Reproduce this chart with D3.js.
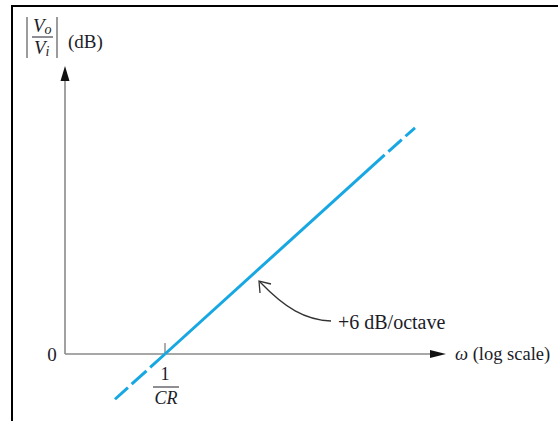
<!DOCTYPE html>
<html><head><meta charset="utf-8">
<script src="https://cdn.jsdelivr.net/npm/d3@7"></script>
<style>body{margin:0;background:#fff}svg{display:block}</style>
</head><body>
<svg id="c" width="558" height="421"></svg>
<script>
// Data (ω normalised so that 1/CR = 1)
const breakOmega = 1;                 // 1/CR
const lowDashOmega = [1, 0.5];        // dashed extension below corner
const lowDashDb = [0, -6];
const solidOmega = [1, 21];           // solid +6 dB/octave asymptote
const solidDb = [0, 26.4];
const highDashOmega = [21, 32];       // dashed extension at top
const highDashDb = [26.4, 30];
const yTickLabels = ["0"];
const annotation = "+6 dB/octave";

const svg = d3.select("#c");
const x = d3.scaleLog().base(2).domain([0.25, 2 ** 5.3]).range([65, 430]);
const y = d3.scaleLinear().domain([0, 36.2]).range([354, 81]);
const serif = "'Liberation Serif','Times New Roman',serif";
const txt = "#1c1c28";
const axisCol = "#8a8a8a";
const blue = "#17a7e2";

// frame
svg.append("rect").attr("x", 11).attr("y", 5).attr("width", 2).attr("height", 416).attr("fill", "#000");
svg.append("rect").attr("x", 11).attr("y", 5).attr("width", 547).attr("height", 2).attr("fill", "#000");

// axes
svg.append("line").attr("x1", x(0.25)).attr("x2", x(0.25)).attr("y1", y(0)).attr("y2", y(36.2))
  .attr("stroke", axisCol).attr("stroke-width", 1.6);
svg.append("line").attr("x1", x(0.25)).attr("x2", 432).attr("y1", y(0)).attr("y2", y(0))
  .attr("stroke", axisCol).attr("stroke-width", 1.6);
// arrowheads
svg.append("path").attr("d", `M${x(0.25)},66 L${x(0.25)-4.5},81 L${x(0.25)+4.5},81 Z`).attr("fill", "#111");
svg.append("path").attr("d", `M446,${y(0)} L430,${y(0)-4} L430,${y(0)+4} Z`).attr("fill", "#111");

// tick at 1/CR
svg.append("line").attr("x1", x(breakOmega)).attr("x2", x(breakOmega)).attr("y1", y(0) - 11).attr("y2", y(0))
  .attr("stroke", axisCol).attr("stroke-width", 1.4);

// lines
const lineGen = d3.line().x(d => x(d[0])).y(d => y(d[1]));
svg.append("path").attr("d", lineGen(d3.zip(solidOmega, solidDb)))
  .attr("stroke", blue).attr("stroke-width", 3).attr("fill", "none");
svg.append("path").attr("d", lineGen(d3.zip(lowDashOmega, lowDashDb)))
  .attr("stroke", blue).attr("stroke-width", 3).attr("fill", "none").attr("stroke-dasharray", "20,5");
svg.append("path").attr("d", lineGen(d3.zip(highDashOmega, highDashDb)))
  .attr("stroke", blue).attr("stroke-width", 3).attr("fill", "none")
  .attr("stroke-dasharray", "18,5").attr("stroke-dashoffset", 18);

// labels
svg.append("text").attr("x", 52).attr("y", 361).attr("text-anchor", "middle")
  .attr("font-family", serif).attr("font-size", 19).attr("fill", txt).text(yTickLabels[0]);
svg.append("text").attr("x", 165).attr("y", 380).attr("text-anchor", "middle")
  .attr("font-family", serif).attr("font-size", 18).attr("fill", txt).text("1");
svg.append("line").attr("x1", 153).attr("x2", 179).attr("y1", 387).attr("y2", 387).attr("stroke", txt).attr("stroke-width", 1);
svg.append("text").attr("x", 166).attr("y", 404).attr("text-anchor", "middle")
  .attr("font-family", serif).attr("font-size", 18).attr("font-style", "italic").attr("fill", txt).text("CR");

svg.append("text").attr("x", 455).attr("y", 360)
  .attr("font-family", serif).attr("font-size", 18.5).attr("fill", txt)
  .call(t => { t.append("tspan").attr("font-style", "italic").text("ω"); t.append("tspan").text(" (log scale)"); });

svg.append("text").attr("x", 338).attr("y", 329)
  .attr("font-family", serif).attr("font-size", 20).attr("fill", txt).text(annotation);

// curved annotation arrow
svg.append("path").attr("d", "M331,321 C305,320 285,308 260,282")
  .attr("stroke", "#333").attr("stroke-width", 1.3).attr("fill", "none");
svg.append("path").attr("d", "M260,293 L259,281 L271,284")
  .attr("stroke", "#333").attr("stroke-width", 1.3).attr("fill", "none");

// y-axis label |Vo/Vi| (dB)
svg.append("line").attr("x1", 27).attr("x2", 27).attr("y1", 17).attr("y2", 58).attr("stroke", "#666").attr("stroke-width", 1.3);
svg.append("line").attr("x1", 57).attr("x2", 57).attr("y1", 17).attr("y2", 58).attr("stroke", "#666").attr("stroke-width", 1.3);
svg.append("text").attr("x", 33).attr("y", 32).attr("font-family", serif).attr("font-size", 19)
  .attr("font-style", "italic").attr("fill", txt)
  .call(t => { t.append("tspan").text("V"); t.append("tspan").attr("font-size", 14).attr("dy", 2).text("o"); });
svg.append("line").attr("x1", 32).attr("x2", 53).attr("y1", 37).attr("y2", 37).attr("stroke", txt).attr("stroke-width", 1);
svg.append("text").attr("x", 34).attr("y", 54).attr("font-family", serif).attr("font-size", 19)
  .attr("font-style", "italic").attr("fill", txt)
  .call(t => { t.append("tspan").text("V"); t.append("tspan").attr("font-size", 14).attr("dy", 2).text("i"); });
svg.append("text").attr("x", 68).attr("y", 48).attr("font-family", serif).attr("font-size", 19)
  .attr("fill", txt).text("(dB)");
</script>
</body></html>
